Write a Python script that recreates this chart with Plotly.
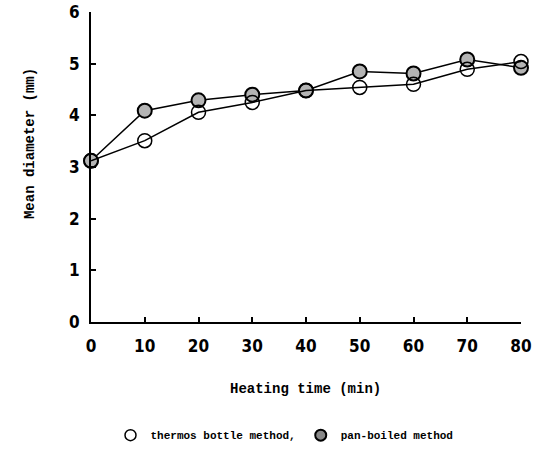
import plotly.graph_objects as go

time_min = [0, 10, 20, 30, 40, 50, 60, 70, 80]
thermos = [3.12, 3.51, 4.06, 4.25, 4.48, 4.54, 4.60, 4.89, 5.04]
pan_boiled = [3.12, 4.09, 4.29, 4.40, 4.48, 4.85, 4.81, 5.08, 4.92]
x_ticks = [0, 10, 20, 30, 40, 50, 60, 70, 80]
y_ticks = [0, 1, 2, 3, 4, 5, 6]

pan_marker = dict(symbol="circle", size=14, color="#b4b4b4", line=dict(color="black", width=2))
open_marker = dict(symbol="circle-open", size=14, color="black", line=dict(color="black", width=1.5))

fig = go.Figure()
fig.add_trace(go.Scatter(
    x=time_min, y=pan_boiled, name="pan-boiled method", mode="lines+markers",
    line=dict(color="black", width=1.5), marker=pan_marker, cliponaxis=False, showlegend=False,
))
fig.add_trace(go.Scatter(
    x=time_min, y=thermos, name="thermos bottle method,", mode="lines+markers",
    line=dict(color="black", width=1.5), marker=open_marker, cliponaxis=False, showlegend=False,
))
# legend entries (markers only)
fig.add_trace(go.Scatter(x=[None], y=[None], name="thermos bottle method,", mode="markers",
                         marker=dict(symbol="circle-open", size=11, color="black", line=dict(width=1.5))))
fig.add_trace(go.Scatter(x=[None], y=[None], name="pan-boiled method", mode="markers",
                         marker=dict(symbol="circle", size=11, color="#888888", line=dict(color="black", width=2))))

mono = "Liberation Mono"
tick_font = dict(family="Liberation Sans Narrow, DejaVu Sans Condensed, Liberation Sans", size=17,
                 color="black", weight="bold")
fig.update_layout(
    width=534, height=452,
    margin=dict(l=91, r=13, t=12, b=130, autoexpand=False),
    plot_bgcolor="white", paper_bgcolor="white",
    showlegend=True,
    legend=dict(orientation="h", x=0.45, xanchor="center", y=-0.365, yanchor="middle",
                traceorder="normal", font=dict(family=mono, size=11, color="black", weight="bold"),
                itemwidth=30, bgcolor="rgba(0,0,0,0)"),
    annotations=[
        dict(text="Heating time (min)", x=0.498, y=-0.216, xref="paper", yref="paper",
             showarrow=False, font=dict(family=mono, size=14, color="black", weight="bold"),
             xanchor="center", yanchor="middle"),
        dict(text="Mean diameter (mm)", x=-0.142, y=0.577, xref="paper", yref="paper",
             showarrow=False, textangle=-90, font=dict(family=mono, size=14, color="black", weight="bold"),
             xanchor="center", yanchor="middle"),
    ],
)
fig.update_xaxes(range=[0, 80], tickvals=x_ticks, showline=True, linecolor="black", linewidth=2,
                 ticks="inside", ticklen=5, tickwidth=1.5, tickcolor="black", showgrid=False, zeroline=False,
                 tickfont=tick_font, ticklabelstandoff=8, automargin=False, ticklabeloverflow="allow")
fig.update_yaxes(range=[0, 6], tickvals=y_ticks, showline=True, linecolor="black", linewidth=2,
                 ticks="inside", ticklen=5, tickwidth=1.5, tickcolor="black", showgrid=False, zeroline=False,
                 tickfont=tick_font, ticklabelstandoff=6, automargin=False, ticklabeloverflow="allow")

fig.write_html("out.html", config={"displayModeBar": False},
               post_script="document.body.style.margin='0';document.body.style.overflow='hidden';")
